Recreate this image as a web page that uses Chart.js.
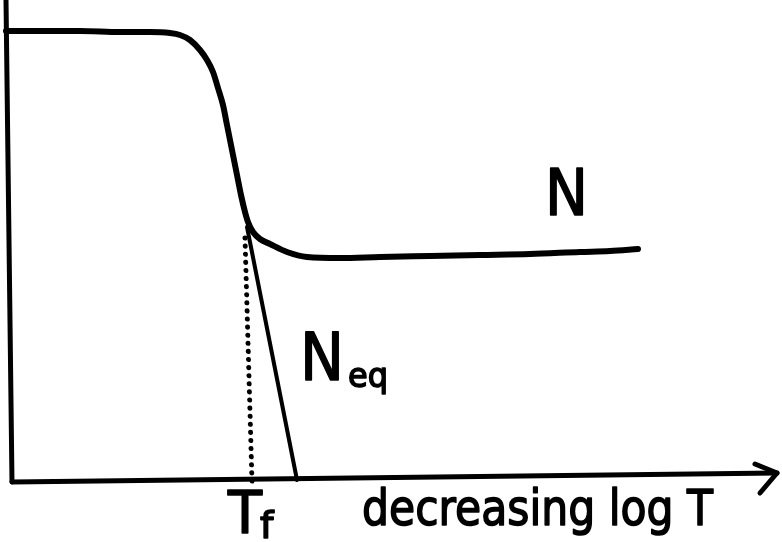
<!DOCTYPE html>
<html>
<head>
<meta charset="utf-8">
<script src="https://cdn.jsdelivr.net/npm/chart.js@4"></script>
<style>
html,body{margin:0;padding:0;background:#fff;}
#wrap{width:782px;height:542px;}
</style>
</head>
<body>
<div id="wrap"><canvas id="c" width="782" height="542"></canvas></div>
<script>
// Schematic: number of configurations N vs decreasing log T (arbitrary units)
const nX = [-0.4, 3.0, 7.0, 11.0, 14.0, 16.0, 17.0, 18.0, 19.0, 19.7, 20.3, 20.8, 21.3, 21.7, 22.0, 22.4, 22.7, 23.1, 23.5, 23.8, 24.3, 25.0, 26.0, 27.7, 29.7, 33.0, 37.0, 42.0, 47.0, 52.0, 57.0, 60.0, 62.8];
const nY = [45.1, 45.1, 45.1, 45.0, 45.0, 44.9, 44.7, 44.2, 43.2, 42.2, 41.0, 39.4, 37.7, 35.7, 34.2, 32.2, 30.7, 28.7, 27.0, 26.0, 25.0, 24.3, 23.8, 23.0, 22.5, 22.4, 22.5, 22.6, 22.7, 22.8, 23.0, 23.1, 23.3];
const neqX = [23.7, 28.7];
const neqY = [25.5, 0.2];
const tfX = [23.5, 24.2];
const tfY = [24.4, 0.0];
const axisYX = [-0.4, 0.2];
const axisYY = [48.2, 0.0];
const axisXX = [0.2, 76.7];
const axisXY = [0.0, 0.9];
const arrowX = [74.5, 76.7, 75.0];
const arrowY = [1.8, 0.9, -1.1];
const labelTexts = ["N", "N", "eq", "T", "f", "decreasing log T"];

const pts = (xs, ys) => xs.map((x, i) => ({x: x, y: ys[i]}));

const FONT = '"DejaVu Sans", sans-serif';
const annotations = [
  {text: labelTexts[0], x: 53.5, y: 26.7, size: 64, width: 43},
  {text: labelTexts[1], x: 29.0, y: 10.2, size: 66, width: 44},
  {text: labelTexts[2], x: 33.8, y: 9.5, size: 34, width: 40},
  {text: labelTexts[3], x: 21.8, y: -5.1, size: 58, width: 34},
  {text: labelTexts[4], x: 25.0, y: -5.6, size: 38, width: 14},
  {text: labelTexts[5], x: 35.2, y: -4.3, size: 50, width: 351}
];

const textPlugin = {
  id: 'sketchText',
  afterDatasetsDraw(chart) {
    const ctx = chart.ctx, xs = chart.scales.x, ys = chart.scales.y;
    ctx.save();
    ctx.fillStyle = '#000';
    ctx.strokeStyle = '#000';
    ctx.lineWidth = 1.6;
    ctx.lineJoin = 'round';
    ctx.textBaseline = 'alphabetic';
    ctx.textAlign = 'left';
    annotations.forEach(a => {
      ctx.font = a.size + 'px ' + FONT;
      const px = xs.getPixelForValue(a.x), py = ys.getPixelForValue(a.y);
      ctx.fillText(a.text, px, py, a.width);
      ctx.strokeText(a.text, px, py, a.width);
    });
    ctx.restore();
  }
};

const line = (data, w, extra) => Object.assign({
  data: data, borderColor: '#000', backgroundColor: '#000', borderWidth: w,
  pointRadius: 0, showLine: true, fill: false, clip: false,
  borderCapStyle: 'round', borderJoinStyle: 'round', tension: 0
}, extra || {});

new Chart(document.getElementById('c'), {
  type: 'scatter',
  data: {
    datasets: [
      line(pts(axisYX, axisYY), 5),
      line(pts(axisXX, axisXY), 5),
      line(pts(arrowX, arrowY), 5),
      line(pts(nX, nY), 6, {cubicInterpolationMode: 'monotone'}),
      line(pts(neqX, neqY), 4),
      line(pts(tfX, tfY), 5, {borderDash: [0.1, 8]})
    ]
  },
  options: {
    responsive: false,
    animation: false,
    layout: {padding: 0},
    plugins: {legend: {display: false}, tooltip: {enabled: false}},
    scales: {
      x: {type: 'linear', min: -1.0, max: 77.2, display: false},
      y: {type: 'linear', min: -6.0, max: 48.2, display: false}
    }
  },
  plugins: [textPlugin]
});
</script>
</body>
</html>
